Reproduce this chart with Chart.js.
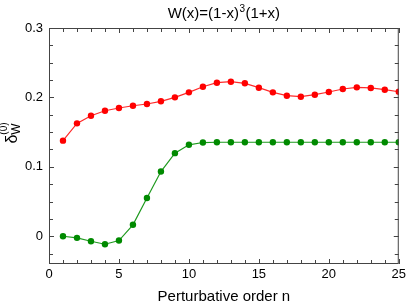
<!DOCTYPE html>
<html>
<head>
<meta charset="utf-8">
<script src="https://cdn.jsdelivr.net/npm/chart.js@4/dist/chart.umd.min.js"></script>
<style>
html,body{margin:0;padding:0;background:#fff;}
#wrap{width:409px;height:304px;position:relative;}
</style>
</head>
<body>
<div id="wrap"><canvas id="c" width="409" height="304"></canvas></div>
<script>
const orders = [1,2,3,4,5,6,7,8,9,10,11,12,13,14,15,16,17,18,19,20,21,22,23,24,25];
const redValues = [0.1377,0.1626,0.1736,0.1808,0.1847,0.1880,0.1905,0.1944,0.2001,0.2073,0.2154,0.2212,0.2226,0.2203,0.2140,0.2073,0.2025,0.2010,0.2039,0.2078,0.2121,0.2145,0.2136,0.2111,0.2082];
const greenValues = [0.0000,-0.0023,-0.0072,-0.0115,-0.0062,0.0165,0.0550,0.0932,0.1197,0.1317,0.1350,0.1354,0.1354,0.1354,0.1354,0.1354,0.1354,0.1354,0.1354,0.1354,0.1354,0.1354,0.1354,0.1354,0.1354];
const xTickLabels = ["0","5","10","15","20","25"];
const yTickLabels = ["0","0.1","0.2","0.3"];

const FONT = "'Liberation Sans', Arial, Helvetica, sans-serif";

const framePlugin = {
  id: 'frame',
  afterDraw(chart) {
    const ctx = chart.ctx;
    const a = chart.chartArea;
    const xs = chart.scales.x, ys = chart.scales.y;
    ctx.save();
    ctx.strokeStyle = '#444';
    ctx.lineWidth = 1;
    ctx.strokeRect(a.left + 0.5, a.top + 0.5, a.right - a.left - 1, a.bottom - a.top - 1);
    ctx.beginPath();
    for (let v = 0; v <= 25; v++) {
      const px = Math.round(xs.getPixelForValue(v)) + 0.5;
      const len = (v % 5 === 0) ? 5 : 4;
      ctx.moveTo(px, a.bottom); ctx.lineTo(px, a.bottom - len);
      ctx.moveTo(px, a.top); ctx.lineTo(px, a.top + len);
    }
    for (let k = -1; k <= 12; k++) {
      const v = k * 0.025;
      const py = Math.round(ys.getPixelForValue(v)) + 0.5;
      const len = (k % 4 === 0) ? 5 : 4;
      ctx.moveTo(a.left, py); ctx.lineTo(a.left + len, py);
      ctx.moveTo(a.right, py); ctx.lineTo(a.right - len, py);
    }
    ctx.stroke();

    // Title with superscript
    ctx.fillStyle = '#000';
    ctx.textBaseline = 'alphabetic';
    ctx.textAlign = 'left';
    const big = "15px " + FONT, small = "10px " + FONT;
    const p1 = "W(x)=(1-x)", p2 = "3", p3 = "(1+x)";
    ctx.font = big; const w1 = ctx.measureText(p1).width, w3 = ctx.measureText(p3).width;
    ctx.font = small; const w2 = ctx.measureText(p2).width;
    const total = w1 + w2 + 1 + w3;
    let tx = (a.left + a.right) / 2 - total / 2;
    const ty = 18;
    ctx.font = big; ctx.fillText(p1, tx, ty); tx += w1;
    ctx.font = small; ctx.fillText(p2, tx + 0.5, ty - 6); tx += w2 + 1;
    ctx.font = big; ctx.fillText(p3, tx, ty);

    // X axis title
    ctx.font = "15px " + FONT;
    ctx.textAlign = 'center';
    ctx.fillText("Perturbative order n", (a.left + a.right) / 2, 301);

    // Y axis title: delta_W^(0), rotated
    ctx.save();
    ctx.translate(17, 133);
    ctx.rotate(-Math.PI / 2);
    ctx.textAlign = 'left';
    ctx.font = "16px " + FONT;
    const d = "\u03B4";
    const wd = ctx.measureText(d).width;
    ctx.font = "12px " + FONT;
    const ww = ctx.measureText("W").width;
    ctx.font = "10px " + FONT;
    const w0 = ctx.measureText("(0)").width;
    const tot = wd + Math.max(ww, w0);
    let lx = -tot / 2;
    ctx.font = "16px " + FONT; ctx.fillText(d, lx, 0);
    ctx.font = "12px " + FONT; ctx.fillText("W", lx + wd, 3);
    ctx.font = "10px " + FONT; ctx.fillText("(0)", lx + wd, -10);
    ctx.restore();
    ctx.restore();
  }
};

const redData = orders.map((n, i) => ({x: n, y: redValues[i]}));
const greenData = orders.map((n, i) => ({x: n, y: greenValues[i]}));

new Chart(document.getElementById('c'), {
  type: 'line',
  data: {
    datasets: [
      {data: redData, borderColor: '#ff2a2a', backgroundColor: '#ff0000', pointBackgroundColor: '#ff0000', pointBorderColor: '#ff0000', borderWidth: 1.2, pointRadius: 3.2, pointBorderWidth: 0, tension: 0},
      {data: greenData, borderColor: '#1f9a1f', backgroundColor: '#008a00', pointBackgroundColor: '#008a00', pointBorderColor: '#008a00', borderWidth: 1.2, pointRadius: 3.2, pointBorderWidth: 0, tension: 0}
    ]
  },
  options: {
    responsive: false,
    animation: false,
    events: [],
    layout: {padding: {left: 0, right: 10, top: 28, bottom: 0}},
    plugins: {legend: {display: false}, title: {display: false}, tooltip: {enabled: false}},
    scales: {
      x: {
        type: 'linear', min: 0, max: 25,
        grid: {display: false, drawTicks: false},
        border: {display: false},
        afterFit(s) { s.height = 40; },
        afterBuildTicks(s) { s.ticks = xTickLabels.map(t => ({value: Number(t)})); },
        ticks: {
          padding: 3, color: '#000', font: {size: 13, family: FONT},
          maxRotation: 0, autoSkip: false,
          callback: (v) => xTickLabels.find(t => Number(t) === v) ?? ''
        }
      },
      y: {
        type: 'linear', min: -0.04, max: 0.3,
        grid: {display: false, drawTicks: false},
        border: {display: false},
        afterFit(s) { s.width = 49; },
        afterBuildTicks(s) { s.ticks = yTickLabels.map(t => ({value: Number(t)})); },
        ticks: {
          padding: 6, color: '#000', font: {size: 13, family: FONT},
          callback: (v) => yTickLabels.find(t => Math.abs(Number(t) - v) < 1e-9) ?? ''
        }
      }
    }
  },
  plugins: [framePlugin]
});
</script>
</body>
</html>
